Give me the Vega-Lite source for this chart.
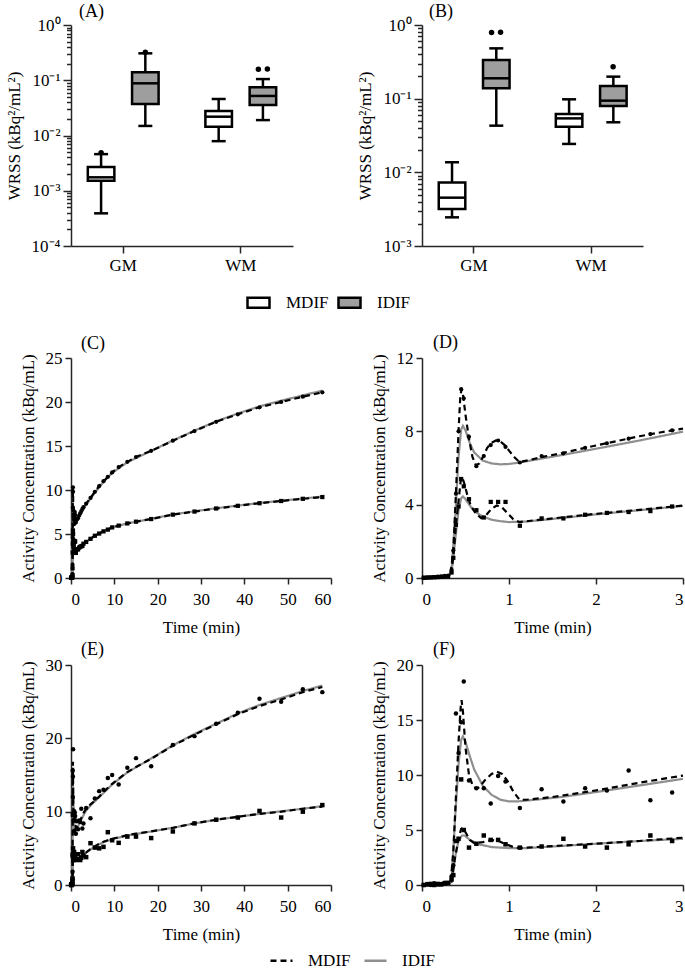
{
"$schema":"https://vega.github.io/schema/vega-lite/v6.json",
"background":"white",
"padding":{"left":5,"top":3,"right":5,"bottom":0},
"config":{
 "view":{"stroke":null},
 "font":"Liberation Serif, Times New Roman, Times, serif",
 "axis":{"domainColor":"#262626","domainWidth":1.5,"tickColor":"#262626","tickWidth":1.5,"tickSize":6,"labelFont":"Liberation Serif, Times New Roman, Times, serif","labelFontSize":17,"labelColor":"black","titleFont":"Liberation Serif, Times New Roman, Times, serif","titleFontSize":17,"titleFontWeight":"normal","titleColor":"black","grid":false,"labelPadding":3,"titlePadding":8,"labelOverlap":false},
 "axisX":{"labelPadding":7,"titlePadding":12},
 "title":{"font":"Liberation Serif, Times New Roman, Times, serif","fontSize":18,"fontWeight":"normal","anchor":"start","frame":"group","color":"black"},
 "legend":{"labelFont":"Liberation Serif, Times New Roman, Times, serif","labelFontSize":17,"labelColor":"black","padding":0}
},
"datasets":{
 "boxA":[
  {"region":"GM","type":"MDIF","lo":0.00039,"q1":0.00152,"med":0.00175,"q3":0.0027,"hi":0.0046},
  {"region":"GM","type":"IDIF","lo":0.0149,"q1":0.037,"med":0.088,"q3":0.139,"hi":0.307},
  {"region":"WM","type":"MDIF","lo":0.0079,"q1":0.0144,"med":0.0219,"q3":0.0277,"hi":0.0458},
  {"region":"WM","type":"IDIF","lo":0.019,"q1":0.0357,"med":0.052,"q3":0.0745,"hi":0.105}],
 "outA":[
  {"region":"GM","type":"MDIF","val":0.0049,"n":0},
  {"region":"GM","type":"IDIF","val":0.32,"n":0},
  {"region":"WM","type":"IDIF","val":0.158,"n":1},
  {"region":"WM","type":"IDIF","val":0.16,"n":2}],
 "boxB":[
  {"region":"GM","type":"MDIF","lo":0.00245,"q1":0.00318,"med":0.00453,"q3":0.0073,"hi":0.0137},
  {"region":"GM","type":"IDIF","lo":0.043,"q1":0.138,"med":0.189,"q3":0.335,"hi":0.482},
  {"region":"WM","type":"MDIF","lo":0.0243,"q1":0.0417,"med":0.054,"q3":0.062,"hi":0.098},
  {"region":"WM","type":"IDIF","lo":0.0478,"q1":0.0795,"med":0.094,"q3":0.149,"hi":0.199}],
 "outB":[
  {"region":"GM","type":"IDIF","val":0.79,"n":1},
  {"region":"GM","type":"IDIF","val":0.8,"n":2},
  {"region":"WM","type":"IDIF","val":0.272,"n":0}],
 "cdp":[
  {"t":0.02,"v":0.02,"r":"GM"},{"t":0.06,"v":0.03,"r":"GM"},{"t":0.1,"v":0.04,"r":"GM"},{"t":0.14,"v":0.05,"r":"GM"},{"t":0.18,"v":0.07,"r":"GM"},{"t":0.22,"v":0.09,"r":"GM"},{"t":0.26,"v":0.11,"r":"GM"},{"t":0.3,"v":0.13,"r":"GM"},{"t":0.34,"v":0.45,"r":"GM"},{"t":0.36,"v":1.5,"r":"GM"},{"t":0.39,"v":4.6,"r":"GM"},{"t":0.42,"v":8.0,"r":"GM"},{"t":0.45,"v":10.3,"r":"GM"},{"t":0.48,"v":9.8,"r":"GM"},{"t":0.54,"v":7.7,"r":"GM"},{"t":0.625,"v":6.1,"r":"GM"},{"t":0.71,"v":6.65,"r":"GM"},{"t":0.79,"v":7.25,"r":"GM"},{"t":0.875,"v":7.5,"r":"GM"},{"t":0.96,"v":7.15,"r":"GM"},{"t":1.125,"v":6.3,"r":"GM"},{"t":1.375,"v":6.65,"r":"GM"},{"t":1.625,"v":6.8,"r":"GM"},{"t":1.875,"v":7.1,"r":"GM"},{"t":2.125,"v":7.35,"r":"GM"},{"t":2.375,"v":7.6,"r":"GM"},{"t":2.625,"v":7.85,"r":"GM"},{"t":2.875,"v":8.05,"r":"GM"},{"t":3.5,"v":8.45,"r":"GM"},{"t":4.5,"v":9.1,"r":"GM"},{"t":5.5,"v":9.8,"r":"GM"},{"t":6.5,"v":10.45,"r":"GM"},{"t":7.5,"v":11.0,"r":"GM"},{"t":8.5,"v":11.5,"r":"GM"},{"t":9.5,"v":12.0,"r":"GM"},{"t":11,"v":12.6,"r":"GM"},{"t":13,"v":13.2,"r":"GM"},{"t":15,"v":13.75,"r":"GM"},{"t":18.5,"v":14.45,"r":"GM"},{"t":23.5,"v":15.6,"r":"GM"},{"t":28.5,"v":16.7,"r":"GM"},{"t":33.5,"v":17.75,"r":"GM"},{"t":38.5,"v":18.6,"r":"GM"},{"t":43.5,"v":19.4,"r":"GM"},{"t":48.5,"v":20.0,"r":"GM"},{"t":53.5,"v":20.6,"r":"GM"},{"t":58,"v":21.1,"r":"GM"},
  {"t":0.02,"v":0.01,"r":"WM"},{"t":0.06,"v":0.02,"r":"WM"},{"t":0.1,"v":0.03,"r":"WM"},{"t":0.14,"v":0.04,"r":"WM"},{"t":0.18,"v":0.05,"r":"WM"},{"t":0.22,"v":0.06,"r":"WM"},{"t":0.26,"v":0.07,"r":"WM"},{"t":0.3,"v":0.08,"r":"WM"},{"t":0.34,"v":0.3,"r":"WM"},{"t":0.36,"v":1.1,"r":"WM"},{"t":0.39,"v":2.9,"r":"WM"},{"t":0.42,"v":3.9,"r":"WM"},{"t":0.45,"v":5.4,"r":"WM"},{"t":0.48,"v":5.0,"r":"WM"},{"t":0.54,"v":4.3,"r":"WM"},{"t":0.625,"v":3.7,"r":"WM"},{"t":0.71,"v":3.3,"r":"WM"},{"t":0.79,"v":4.15,"r":"WM"},{"t":0.875,"v":4.15,"r":"WM"},{"t":0.96,"v":4.15,"r":"WM"},{"t":1.125,"v":2.85,"r":"WM"},{"t":1.375,"v":3.25,"r":"WM"},{"t":1.625,"v":3.25,"r":"WM"},{"t":1.875,"v":3.45,"r":"WM"},{"t":2.125,"v":3.55,"r":"WM"},{"t":2.375,"v":3.6,"r":"WM"},{"t":2.625,"v":3.65,"r":"WM"},{"t":2.875,"v":3.9,"r":"WM"},{"t":3.5,"v":4.1,"r":"WM"},{"t":4.5,"v":4.45,"r":"WM"},{"t":5.5,"v":4.8,"r":"WM"},{"t":6.5,"v":5.05,"r":"WM"},{"t":7.5,"v":5.3,"r":"WM"},{"t":8.5,"v":5.5,"r":"WM"},{"t":9.5,"v":5.75,"r":"WM"},{"t":11,"v":5.95,"r":"WM"},{"t":13,"v":6.2,"r":"WM"},{"t":15,"v":6.4,"r":"WM"},{"t":18.5,"v":6.7,"r":"WM"},{"t":23.5,"v":7.2,"r":"WM"},{"t":28.5,"v":7.55,"r":"WM"},{"t":33.5,"v":7.9,"r":"WM"},{"t":38.5,"v":8.2,"r":"WM"},{"t":43.5,"v":8.5,"r":"WM"},{"t":48.5,"v":8.75,"r":"WM"},{"t":53.5,"v":9.0,"r":"WM"},{"t":58,"v":9.2,"r":"WM"}],
 "cdf":[
  {"t":0,"v":0,"r":"GM","m":"IDIF"},{"t":0.3,"v":0.05,"r":"GM","m":"IDIF"},{"t":0.34,"v":0.4,"r":"GM","m":"IDIF"},{"t":0.38,"v":3.2,"r":"GM","m":"IDIF"},{"t":0.42,"v":6.6,"r":"GM","m":"IDIF"},{"t":0.45,"v":8.1,"r":"GM","m":"IDIF"},{"t":0.47,"v":8.3,"r":"GM","m":"IDIF"},{"t":0.5,"v":8.05,"r":"GM","m":"IDIF"},{"t":0.55,"v":7.35,"r":"GM","m":"IDIF"},{"t":0.6,"v":6.85,"r":"GM","m":"IDIF"},{"t":0.7,"v":6.4,"r":"GM","m":"IDIF"},{"t":0.8,"v":6.25,"r":"GM","m":"IDIF"},{"t":0.9,"v":6.2,"r":"GM","m":"IDIF"},{"t":1.0,"v":6.22,"r":"GM","m":"IDIF"},{"t":1.1,"v":6.28,"r":"GM","m":"IDIF"},{"t":1.3,"v":6.45,"r":"GM","m":"IDIF"},{"t":1.6,"v":6.7,"r":"GM","m":"IDIF"},{"t":2.0,"v":7.05,"r":"GM","m":"IDIF"},{"t":2.5,"v":7.5,"r":"GM","m":"IDIF"},{"t":3.0,"v":7.98,"r":"GM","m":"IDIF"},{"t":3.5,"v":8.35,"r":"GM","m":"IDIF"},{"t":4.5,"v":9.0,"r":"GM","m":"IDIF"},{"t":5.5,"v":9.7,"r":"GM","m":"IDIF"},{"t":7.5,"v":10.9,"r":"GM","m":"IDIF"},{"t":9.5,"v":11.95,"r":"GM","m":"IDIF"},{"t":13,"v":13.15,"r":"GM","m":"IDIF"},{"t":18.5,"v":14.45,"r":"GM","m":"IDIF"},{"t":23.5,"v":15.62,"r":"GM","m":"IDIF"},{"t":28.5,"v":16.75,"r":"GM","m":"IDIF"},{"t":33.5,"v":17.8,"r":"GM","m":"IDIF"},{"t":38.5,"v":18.7,"r":"GM","m":"IDIF"},{"t":43.5,"v":19.5,"r":"GM","m":"IDIF"},{"t":48.5,"v":20.15,"r":"GM","m":"IDIF"},{"t":53.5,"v":20.75,"r":"GM","m":"IDIF"},{"t":58,"v":21.3,"r":"GM","m":"IDIF"},
  {"t":0,"v":0,"r":"WM","m":"IDIF"},{"t":0.3,"v":0.05,"r":"WM","m":"IDIF"},{"t":0.34,"v":0.3,"r":"WM","m":"IDIF"},{"t":0.38,"v":2.0,"r":"WM","m":"IDIF"},{"t":0.42,"v":3.7,"r":"WM","m":"IDIF"},{"t":0.45,"v":4.35,"r":"WM","m":"IDIF"},{"t":0.47,"v":4.45,"r":"WM","m":"IDIF"},{"t":0.5,"v":4.3,"r":"WM","m":"IDIF"},{"t":0.55,"v":3.95,"r":"WM","m":"IDIF"},{"t":0.6,"v":3.65,"r":"WM","m":"IDIF"},{"t":0.7,"v":3.35,"r":"WM","m":"IDIF"},{"t":0.8,"v":3.18,"r":"WM","m":"IDIF"},{"t":0.9,"v":3.1,"r":"WM","m":"IDIF"},{"t":1.0,"v":3.05,"r":"WM","m":"IDIF"},{"t":1.2,"v":3.08,"r":"WM","m":"IDIF"},{"t":1.5,"v":3.22,"r":"WM","m":"IDIF"},{"t":2.0,"v":3.47,"r":"WM","m":"IDIF"},{"t":2.5,"v":3.7,"r":"WM","m":"IDIF"},{"t":3.0,"v":3.93,"r":"WM","m":"IDIF"},{"t":3.5,"v":4.1,"r":"WM","m":"IDIF"},{"t":4.5,"v":4.45,"r":"WM","m":"IDIF"},{"t":5.5,"v":4.8,"r":"WM","m":"IDIF"},{"t":7.5,"v":5.3,"r":"WM","m":"IDIF"},{"t":9.5,"v":5.75,"r":"WM","m":"IDIF"},{"t":13,"v":6.2,"r":"WM","m":"IDIF"},{"t":18.5,"v":6.72,"r":"WM","m":"IDIF"},{"t":23.5,"v":7.22,"r":"WM","m":"IDIF"},{"t":28.5,"v":7.58,"r":"WM","m":"IDIF"},{"t":33.5,"v":7.93,"r":"WM","m":"IDIF"},{"t":38.5,"v":8.23,"r":"WM","m":"IDIF"},{"t":43.5,"v":8.53,"r":"WM","m":"IDIF"},{"t":48.5,"v":8.78,"r":"WM","m":"IDIF"},{"t":53.5,"v":9.03,"r":"WM","m":"IDIF"},{"t":58,"v":9.25,"r":"WM","m":"IDIF"},
  {"t":0,"v":0,"r":"GM","m":"MDIF"},{"t":0.3,"v":0.12,"r":"GM","m":"MDIF"},{"t":0.33,"v":0.3,"r":"GM","m":"MDIF"},{"t":0.36,"v":1.5,"r":"GM","m":"MDIF"},{"t":0.39,"v":4.6,"r":"GM","m":"MDIF"},{"t":0.42,"v":8.0,"r":"GM","m":"MDIF"},{"t":0.44,"v":9.9,"r":"GM","m":"MDIF"},{"t":0.455,"v":10.3,"r":"GM","m":"MDIF"},{"t":0.47,"v":10.05,"r":"GM","m":"MDIF"},{"t":0.5,"v":8.9,"r":"GM","m":"MDIF"},{"t":0.54,"v":7.6,"r":"GM","m":"MDIF"},{"t":0.58,"v":6.6,"r":"GM","m":"MDIF"},{"t":0.62,"v":6.15,"r":"GM","m":"MDIF"},{"t":0.66,"v":6.25,"r":"GM","m":"MDIF"},{"t":0.7,"v":6.6,"r":"GM","m":"MDIF"},{"t":0.75,"v":7.1,"r":"GM","m":"MDIF"},{"t":0.8,"v":7.38,"r":"GM","m":"MDIF"},{"t":0.85,"v":7.5,"r":"GM","m":"MDIF"},{"t":0.9,"v":7.45,"r":"GM","m":"MDIF"},{"t":0.95,"v":7.25,"r":"GM","m":"MDIF"},{"t":1.0,"v":6.95,"r":"GM","m":"MDIF"},{"t":1.06,"v":6.6,"r":"GM","m":"MDIF"},{"t":1.12,"v":6.32,"r":"GM","m":"MDIF"},{"t":1.2,"v":6.4,"r":"GM","m":"MDIF"},{"t":1.4,"v":6.62,"r":"GM","m":"MDIF"},{"t":1.6,"v":6.8,"r":"GM","m":"MDIF"},{"t":1.8,"v":7.02,"r":"GM","m":"MDIF"},{"t":2.0,"v":7.23,"r":"GM","m":"MDIF"},{"t":2.25,"v":7.48,"r":"GM","m":"MDIF"},{"t":2.5,"v":7.73,"r":"GM","m":"MDIF"},{"t":2.75,"v":7.95,"r":"GM","m":"MDIF"},{"t":3.0,"v":8.15,"r":"GM","m":"MDIF"},{"t":3.5,"v":8.45,"r":"GM","m":"MDIF"},{"t":4.5,"v":9.1,"r":"GM","m":"MDIF"},{"t":5.5,"v":9.8,"r":"GM","m":"MDIF"},{"t":6.5,"v":10.45,"r":"GM","m":"MDIF"},{"t":7.5,"v":11.0,"r":"GM","m":"MDIF"},{"t":8.5,"v":11.5,"r":"GM","m":"MDIF"},{"t":9.5,"v":12.0,"r":"GM","m":"MDIF"},{"t":11,"v":12.6,"r":"GM","m":"MDIF"},{"t":13,"v":13.2,"r":"GM","m":"MDIF"},{"t":15,"v":13.75,"r":"GM","m":"MDIF"},{"t":18.5,"v":14.45,"r":"GM","m":"MDIF"},{"t":23.5,"v":15.6,"r":"GM","m":"MDIF"},{"t":28.5,"v":16.7,"r":"GM","m":"MDIF"},{"t":33.5,"v":17.75,"r":"GM","m":"MDIF"},{"t":38.5,"v":18.6,"r":"GM","m":"MDIF"},{"t":43.5,"v":19.4,"r":"GM","m":"MDIF"},{"t":48.5,"v":20.0,"r":"GM","m":"MDIF"},{"t":53.5,"v":20.6,"r":"GM","m":"MDIF"},{"t":58,"v":21.1,"r":"GM","m":"MDIF"},
  {"t":0,"v":0,"r":"WM","m":"MDIF"},{"t":0.3,"v":0.08,"r":"WM","m":"MDIF"},{"t":0.33,"v":0.2,"r":"WM","m":"MDIF"},{"t":0.36,"v":1.1,"r":"WM","m":"MDIF"},{"t":0.39,"v":2.9,"r":"WM","m":"MDIF"},{"t":0.42,"v":4.2,"r":"WM","m":"MDIF"},{"t":0.445,"v":5.3,"r":"WM","m":"MDIF"},{"t":0.46,"v":5.5,"r":"WM","m":"MDIF"},{"t":0.48,"v":5.25,"r":"WM","m":"MDIF"},{"t":0.52,"v":4.55,"r":"WM","m":"MDIF"},{"t":0.56,"v":3.95,"r":"WM","m":"MDIF"},{"t":0.62,"v":3.5,"r":"WM","m":"MDIF"},{"t":0.68,"v":3.27,"r":"WM","m":"MDIF"},{"t":0.74,"v":3.45,"r":"WM","m":"MDIF"},{"t":0.8,"v":3.78,"r":"WM","m":"MDIF"},{"t":0.86,"v":3.95,"r":"WM","m":"MDIF"},{"t":0.92,"v":3.85,"r":"WM","m":"MDIF"},{"t":0.98,"v":3.55,"r":"WM","m":"MDIF"},{"t":1.05,"v":3.2,"r":"WM","m":"MDIF"},{"t":1.12,"v":3.05,"r":"WM","m":"MDIF"},{"t":1.3,"v":3.15,"r":"WM","m":"MDIF"},{"t":1.6,"v":3.3,"r":"WM","m":"MDIF"},{"t":2.0,"v":3.5,"r":"WM","m":"MDIF"},{"t":2.5,"v":3.72,"r":"WM","m":"MDIF"},{"t":3.0,"v":3.95,"r":"WM","m":"MDIF"},{"t":3.5,"v":4.1,"r":"WM","m":"MDIF"},{"t":4.5,"v":4.45,"r":"WM","m":"MDIF"},{"t":5.5,"v":4.8,"r":"WM","m":"MDIF"},{"t":6.5,"v":5.05,"r":"WM","m":"MDIF"},{"t":7.5,"v":5.3,"r":"WM","m":"MDIF"},{"t":8.5,"v":5.5,"r":"WM","m":"MDIF"},{"t":9.5,"v":5.75,"r":"WM","m":"MDIF"},{"t":11,"v":5.95,"r":"WM","m":"MDIF"},{"t":13,"v":6.2,"r":"WM","m":"MDIF"},{"t":15,"v":6.4,"r":"WM","m":"MDIF"},{"t":18.5,"v":6.7,"r":"WM","m":"MDIF"},{"t":23.5,"v":7.2,"r":"WM","m":"MDIF"},{"t":28.5,"v":7.55,"r":"WM","m":"MDIF"},{"t":33.5,"v":7.9,"r":"WM","m":"MDIF"},{"t":38.5,"v":8.2,"r":"WM","m":"MDIF"},{"t":43.5,"v":8.5,"r":"WM","m":"MDIF"},{"t":48.5,"v":8.75,"r":"WM","m":"MDIF"},{"t":53.5,"v":9.0,"r":"WM","m":"MDIF"},{"t":58,"v":9.2,"r":"WM","m":"MDIF"}],
 "efp":[
  {"t":0.02,"v":0.0,"r":"GM"},{"t":0.06,"v":0.1,"r":"GM"},{"t":0.1,"v":0.0,"r":"GM"},{"t":0.14,"v":0.15,"r":"GM"},{"t":0.18,"v":0.05,"r":"GM"},{"t":0.22,"v":0.1,"r":"GM"},{"t":0.26,"v":0.2,"r":"GM"},{"t":0.3,"v":0.15,"r":"GM"},{"t":0.34,"v":0.8,"r":"GM"},{"t":0.36,"v":1.8,"r":"GM"},{"t":0.39,"v":15.6,"r":"GM"},{"t":0.42,"v":12.0,"r":"GM"},{"t":0.45,"v":14.8,"r":"GM"},{"t":0.48,"v":18.5,"r":"GM"},{"t":0.54,"v":9.5,"r":"GM"},{"t":0.625,"v":8.8,"r":"GM"},{"t":0.71,"v":8.8,"r":"GM"},{"t":0.79,"v":7.4,"r":"GM"},{"t":0.875,"v":9.9,"r":"GM"},{"t":0.96,"v":9.4,"r":"GM"},{"t":1.125,"v":7.0,"r":"GM"},{"t":1.375,"v":8.7,"r":"GM"},{"t":1.625,"v":7.6,"r":"GM"},{"t":1.875,"v":8.8,"r":"GM"},{"t":2.125,"v":8.6,"r":"GM"},{"t":2.375,"v":10.4,"r":"GM"},{"t":2.625,"v":7.7,"r":"GM"},{"t":2.875,"v":8.4,"r":"GM"},{"t":3.5,"v":10.5,"r":"GM"},{"t":4.5,"v":9.1,"r":"GM"},{"t":5.5,"v":11.8,"r":"GM"},{"t":6.5,"v":12.8,"r":"GM"},{"t":7.5,"v":13.0,"r":"GM"},{"t":8.5,"v":14.6,"r":"GM"},{"t":9.5,"v":15.0,"r":"GM"},{"t":11,"v":13.7,"r":"GM"},{"t":13,"v":16.0,"r":"GM"},{"t":15,"v":17.3,"r":"GM"},{"t":18.5,"v":16.2,"r":"GM"},{"t":23.5,"v":19.1,"r":"GM"},{"t":28.5,"v":20.3,"r":"GM"},{"t":33.5,"v":22.0,"r":"GM"},{"t":38.5,"v":23.5,"r":"GM"},{"t":43.5,"v":25.4,"r":"GM"},{"t":48.5,"v":25.0,"r":"GM"},{"t":53.5,"v":26.7,"r":"GM"},{"t":58,"v":26.3,"r":"GM"},
  {"t":0.02,"v":0.0,"r":"WM"},{"t":0.06,"v":0.05,"r":"WM"},{"t":0.1,"v":0.1,"r":"WM"},{"t":0.14,"v":0.0,"r":"WM"},{"t":0.18,"v":0.1,"r":"WM"},{"t":0.22,"v":0.05,"r":"WM"},{"t":0.26,"v":0.15,"r":"WM"},{"t":0.3,"v":0.2,"r":"WM"},{"t":0.34,"v":0.5,"r":"WM"},{"t":0.36,"v":0.9,"r":"WM"},{"t":0.39,"v":4.0,"r":"WM"},{"t":0.42,"v":4.2,"r":"WM"},{"t":0.45,"v":9.6,"r":"WM"},{"t":0.48,"v":5.0,"r":"WM"},{"t":0.54,"v":3.4,"r":"WM"},{"t":0.625,"v":3.75,"r":"WM"},{"t":0.71,"v":4.5,"r":"WM"},{"t":0.79,"v":4.1,"r":"WM"},{"t":0.875,"v":4.1,"r":"WM"},{"t":0.96,"v":3.7,"r":"WM"},{"t":1.125,"v":3.4,"r":"WM"},{"t":1.375,"v":3.5,"r":"WM"},{"t":1.625,"v":4.2,"r":"WM"},{"t":1.875,"v":3.5,"r":"WM"},{"t":2.125,"v":3.4,"r":"WM"},{"t":2.375,"v":3.7,"r":"WM"},{"t":2.625,"v":4.5,"r":"WM"},{"t":2.875,"v":4.0,"r":"WM"},{"t":3.5,"v":3.8,"r":"WM"},{"t":4.5,"v":5.7,"r":"WM"},{"t":5.5,"v":5.1,"r":"WM"},{"t":6.5,"v":5.0,"r":"WM"},{"t":7.5,"v":5.2,"r":"WM"},{"t":8.5,"v":7.2,"r":"WM"},{"t":9.5,"v":6.1,"r":"WM"},{"t":11,"v":5.75,"r":"WM"},{"t":13,"v":6.6,"r":"WM"},{"t":15,"v":6.6,"r":"WM"},{"t":18.5,"v":6.4,"r":"WM"},{"t":23.5,"v":7.3,"r":"WM"},{"t":28.5,"v":8.4,"r":"WM"},{"t":33.5,"v":8.9,"r":"WM"},{"t":38.5,"v":9.2,"r":"WM"},{"t":43.5,"v":10.1,"r":"WM"},{"t":48.5,"v":9.2,"r":"WM"},{"t":53.5,"v":10.0,"r":"WM"},{"t":58,"v":10.9,"r":"WM"}],
 "eff":[
  {"t":0,"v":0,"r":"GM","m":"IDIF"},{"t":0.3,"v":0.05,"r":"GM","m":"IDIF"},{"t":0.34,"v":0.5,"r":"GM","m":"IDIF"},{"t":0.38,"v":6.0,"r":"GM","m":"IDIF"},{"t":0.42,"v":11.0,"r":"GM","m":"IDIF"},{"t":0.45,"v":13.2,"r":"GM","m":"IDIF"},{"t":0.47,"v":13.5,"r":"GM","m":"IDIF"},{"t":0.5,"v":13.0,"r":"GM","m":"IDIF"},{"t":0.55,"v":11.7,"r":"GM","m":"IDIF"},{"t":0.6,"v":10.5,"r":"GM","m":"IDIF"},{"t":0.7,"v":9.0,"r":"GM","m":"IDIF"},{"t":0.8,"v":8.2,"r":"GM","m":"IDIF"},{"t":0.9,"v":7.75,"r":"GM","m":"IDIF"},{"t":1.0,"v":7.6,"r":"GM","m":"IDIF"},{"t":1.1,"v":7.6,"r":"GM","m":"IDIF"},{"t":1.3,"v":7.75,"r":"GM","m":"IDIF"},{"t":1.6,"v":8.0,"r":"GM","m":"IDIF"},{"t":2.0,"v":8.45,"r":"GM","m":"IDIF"},{"t":2.5,"v":9.05,"r":"GM","m":"IDIF"},{"t":3.0,"v":9.65,"r":"GM","m":"IDIF"},{"t":3.5,"v":10.15,"r":"GM","m":"IDIF"},{"t":4.5,"v":10.85,"r":"GM","m":"IDIF"},{"t":5.5,"v":11.4,"r":"GM","m":"IDIF"},{"t":7.5,"v":12.55,"r":"GM","m":"IDIF"},{"t":9.5,"v":13.7,"r":"GM","m":"IDIF"},{"t":13,"v":15.35,"r":"GM","m":"IDIF"},{"t":18.5,"v":17.25,"r":"GM","m":"IDIF"},{"t":23.5,"v":19.05,"r":"GM","m":"IDIF"},{"t":28.5,"v":20.6,"r":"GM","m":"IDIF"},{"t":33.5,"v":22.0,"r":"GM","m":"IDIF"},{"t":38.5,"v":23.4,"r":"GM","m":"IDIF"},{"t":43.5,"v":24.55,"r":"GM","m":"IDIF"},{"t":48.5,"v":25.5,"r":"GM","m":"IDIF"},{"t":53.5,"v":26.45,"r":"GM","m":"IDIF"},{"t":58,"v":27.2,"r":"GM","m":"IDIF"},
  {"t":0,"v":0,"r":"WM","m":"IDIF"},{"t":0.3,"v":0.05,"r":"WM","m":"IDIF"},{"t":0.34,"v":0.3,"r":"WM","m":"IDIF"},{"t":0.38,"v":2.5,"r":"WM","m":"IDIF"},{"t":0.42,"v":4.0,"r":"WM","m":"IDIF"},{"t":0.46,"v":4.5,"r":"WM","m":"IDIF"},{"t":0.49,"v":4.5,"r":"WM","m":"IDIF"},{"t":0.55,"v":4.1,"r":"WM","m":"IDIF"},{"t":0.65,"v":3.7,"r":"WM","m":"IDIF"},{"t":0.8,"v":3.45,"r":"WM","m":"IDIF"},{"t":1.0,"v":3.35,"r":"WM","m":"IDIF"},{"t":1.2,"v":3.35,"r":"WM","m":"IDIF"},{"t":1.6,"v":3.55,"r":"WM","m":"IDIF"},{"t":2.0,"v":3.75,"r":"WM","m":"IDIF"},{"t":2.5,"v":4.0,"r":"WM","m":"IDIF"},{"t":3.0,"v":4.2,"r":"WM","m":"IDIF"},{"t":3.5,"v":4.4,"r":"WM","m":"IDIF"},{"t":4.5,"v":4.85,"r":"WM","m":"IDIF"},{"t":5.5,"v":5.25,"r":"WM","m":"IDIF"},{"t":7.5,"v":5.85,"r":"WM","m":"IDIF"},{"t":9.5,"v":6.25,"r":"WM","m":"IDIF"},{"t":13,"v":6.75,"r":"WM","m":"IDIF"},{"t":18.5,"v":7.3,"r":"WM","m":"IDIF"},{"t":23.5,"v":7.8,"r":"WM","m":"IDIF"},{"t":28.5,"v":8.4,"r":"WM","m":"IDIF"},{"t":33.5,"v":8.9,"r":"WM","m":"IDIF"},{"t":38.5,"v":9.3,"r":"WM","m":"IDIF"},{"t":43.5,"v":9.7,"r":"WM","m":"IDIF"},{"t":48.5,"v":10.05,"r":"WM","m":"IDIF"},{"t":53.5,"v":10.4,"r":"WM","m":"IDIF"},{"t":58,"v":10.75,"r":"WM","m":"IDIF"},
  {"t":0,"v":0,"r":"GM","m":"MDIF"},{"t":0.3,"v":0.1,"r":"GM","m":"MDIF"},{"t":0.33,"v":0.3,"r":"GM","m":"MDIF"},{"t":0.36,"v":3.0,"r":"GM","m":"MDIF"},{"t":0.39,"v":8.0,"r":"GM","m":"MDIF"},{"t":0.42,"v":13.0,"r":"GM","m":"MDIF"},{"t":0.445,"v":16.2,"r":"GM","m":"MDIF"},{"t":0.455,"v":16.8,"r":"GM","m":"MDIF"},{"t":0.47,"v":15.8,"r":"GM","m":"MDIF"},{"t":0.5,"v":12.5,"r":"GM","m":"MDIF"},{"t":0.54,"v":10.0,"r":"GM","m":"MDIF"},{"t":0.58,"v":9.1,"r":"GM","m":"MDIF"},{"t":0.62,"v":8.75,"r":"GM","m":"MDIF"},{"t":0.66,"v":8.9,"r":"GM","m":"MDIF"},{"t":0.72,"v":9.5,"r":"GM","m":"MDIF"},{"t":0.8,"v":10.1,"r":"GM","m":"MDIF"},{"t":0.86,"v":10.3,"r":"GM","m":"MDIF"},{"t":0.92,"v":10.1,"r":"GM","m":"MDIF"},{"t":0.98,"v":9.5,"r":"GM","m":"MDIF"},{"t":1.05,"v":8.5,"r":"GM","m":"MDIF"},{"t":1.12,"v":7.75,"r":"GM","m":"MDIF"},{"t":1.2,"v":7.75,"r":"GM","m":"MDIF"},{"t":1.5,"v":8.0,"r":"GM","m":"MDIF"},{"t":2.0,"v":8.6,"r":"GM","m":"MDIF"},{"t":2.5,"v":9.3,"r":"GM","m":"MDIF"},{"t":3.0,"v":9.95,"r":"GM","m":"MDIF"},{"t":3.5,"v":10.4,"r":"GM","m":"MDIF"},{"t":4.5,"v":11.0,"r":"GM","m":"MDIF"},{"t":5.5,"v":11.5,"r":"GM","m":"MDIF"},{"t":6.5,"v":12.05,"r":"GM","m":"MDIF"},{"t":7.5,"v":12.65,"r":"GM","m":"MDIF"},{"t":8.5,"v":13.25,"r":"GM","m":"MDIF"},{"t":9.5,"v":13.8,"r":"GM","m":"MDIF"},{"t":11,"v":14.5,"r":"GM","m":"MDIF"},{"t":13,"v":15.4,"r":"GM","m":"MDIF"},{"t":15,"v":16.1,"r":"GM","m":"MDIF"},{"t":18.5,"v":17.2,"r":"GM","m":"MDIF"},{"t":23.5,"v":19.0,"r":"GM","m":"MDIF"},{"t":28.5,"v":20.5,"r":"GM","m":"MDIF"},{"t":33.5,"v":21.9,"r":"GM","m":"MDIF"},{"t":38.5,"v":23.3,"r":"GM","m":"MDIF"},{"t":43.5,"v":24.4,"r":"GM","m":"MDIF"},{"t":48.5,"v":25.3,"r":"GM","m":"MDIF"},{"t":53.5,"v":26.3,"r":"GM","m":"MDIF"},{"t":58,"v":27.0,"r":"GM","m":"MDIF"},
  {"t":0,"v":0,"r":"WM","m":"MDIF"},{"t":0.3,"v":0.05,"r":"WM","m":"MDIF"},{"t":0.34,"v":0.3,"r":"WM","m":"MDIF"},{"t":0.38,"v":2.5,"r":"WM","m":"MDIF"},{"t":0.42,"v":4.2,"r":"WM","m":"MDIF"},{"t":0.45,"v":5.1,"r":"WM","m":"MDIF"},{"t":0.47,"v":5.2,"r":"WM","m":"MDIF"},{"t":0.5,"v":4.8,"r":"WM","m":"MDIF"},{"t":0.55,"v":4.1,"r":"WM","m":"MDIF"},{"t":0.6,"v":3.8,"r":"WM","m":"MDIF"},{"t":0.7,"v":3.9,"r":"WM","m":"MDIF"},{"t":0.8,"v":4.1,"r":"WM","m":"MDIF"},{"t":0.88,"v":4.0,"r":"WM","m":"MDIF"},{"t":0.95,"v":3.75,"r":"WM","m":"MDIF"},{"t":1.05,"v":3.45,"r":"WM","m":"MDIF"},{"t":1.12,"v":3.35,"r":"WM","m":"MDIF"},{"t":1.4,"v":3.5,"r":"WM","m":"MDIF"},{"t":2.0,"v":3.75,"r":"WM","m":"MDIF"},{"t":2.5,"v":4.0,"r":"WM","m":"MDIF"},{"t":3.0,"v":4.3,"r":"WM","m":"MDIF"},{"t":3.5,"v":4.45,"r":"WM","m":"MDIF"},{"t":4.5,"v":4.9,"r":"WM","m":"MDIF"},{"t":5.5,"v":5.3,"r":"WM","m":"MDIF"},{"t":6.5,"v":5.6,"r":"WM","m":"MDIF"},{"t":7.5,"v":5.9,"r":"WM","m":"MDIF"},{"t":8.5,"v":6.1,"r":"WM","m":"MDIF"},{"t":9.5,"v":6.3,"r":"WM","m":"MDIF"},{"t":11,"v":6.5,"r":"WM","m":"MDIF"},{"t":13,"v":6.8,"r":"WM","m":"MDIF"},{"t":15,"v":7.0,"r":"WM","m":"MDIF"},{"t":18.5,"v":7.3,"r":"WM","m":"MDIF"},{"t":23.5,"v":7.8,"r":"WM","m":"MDIF"},{"t":28.5,"v":8.4,"r":"WM","m":"MDIF"},{"t":33.5,"v":8.9,"r":"WM","m":"MDIF"},{"t":38.5,"v":9.3,"r":"WM","m":"MDIF"},{"t":43.5,"v":9.7,"r":"WM","m":"MDIF"},{"t":48.5,"v":10.0,"r":"WM","m":"MDIF"},{"t":53.5,"v":10.4,"r":"WM","m":"MDIF"},{"t":58,"v":10.7,"r":"WM","m":"MDIF"}]
},
"resolve":{"scale":{"color":"independent","fill":"independent","strokeDash":"independent","shape":"independent"},"legend":{"color":"independent","fill":"independent","strokeDash":"independent","shape":"independent"}},
"spacing":21,
"vconcat":[
 {"hconcat":[
  {"width":222,"height":221,
   "title":{"text":"(A)","dx":8,"offset":-5},
   "data":{"name":"boxA"},
   "layer":[
    {"mark":{"type":"rule","color":"black","strokeWidth":2.5},
     "encoding":{
      "x":{"field":"region","type":"nominal","scale":{"domain":["GM","WM"],"paddingInner":0.3,"paddingOuter":0.094},"axis":{"title":null,"labelAngle":0,"tickSize":7,"labelPadding":4}},
      "xOffset":{"field":"type","type":"nominal","scale":{"domain":["MDIF","IDIF"],"paddingInner":0.4,"paddingOuter":0.13}},
      "y":{"field":"lo","type":"quantitative","scale":{"type":"log","domain":[0.0001,1],"nice":false},
       "axis":{"title":"WRSS (kBq²/mL²)","values":[0.0001,0.0002,0.0003,0.0004,0.0005,0.0006,0.0007,0.0008,0.0009,0.001,0.002,0.003,0.004,0.005,0.006,0.007,0.008,0.009,0.01,0.02,0.03,0.04,0.05,0.06,0.07,0.08,0.09,0.1,0.2,0.3,0.4,0.5,0.6,0.7,0.8,0.9,1],
        "labelExpr":"datum.value == 1 ? '10⁰' : datum.value == 0.1 ? '10⁻¹' : datum.value == 0.01 ? '10⁻²' : datum.value == 0.001 ? '10⁻³' : datum.value == 0.0001 ? '10⁻⁴' : ''",
        "tickSize":{"condition":{"test":"indexof([1,0.1,0.01,0.001,0.0001], datum.value) >= 0","value":8},"value":4.5},"labelPadding":3}},
      "y2":{"field":"hi"}}},
    {"mark":{"type":"bar","stroke":"black","strokeWidth":2.5},
     "encoding":{
      "x":{"field":"region","type":"nominal"},
      "xOffset":{"field":"type","type":"nominal"},
      "y":{"field":"q1","type":"quantitative"},"y2":{"field":"q3"},
      "fill":{"field":"type","type":"nominal","scale":{"domain":["MDIF","IDIF"],"range":["white","#9e9e9e"]},
       "legend":{"orient":"none","legendX":175,"legendY":265,"direction":"horizontal","title":null,"symbolType":"M-1,-0.45L1,-0.45L1,0.45L-1,0.45Z","symbolSize":484,"symbolStrokeColor":"black","symbolStrokeWidth":2.5,"symbolOpacity":1,"labelOffset":15,"columnPadding":4}}}},
    {"mark":{"type":"tick","color":"black","thickness":2.5,"size":27,"opacity":1},"encoding":{"x":{"field":"region","type":"nominal"},"xOffset":{"field":"type","type":"nominal"},"y":{"field":"med","type":"quantitative"}}},
    {"mark":{"type":"tick","color":"black","thickness":2.5,"size":14,"opacity":1},"encoding":{"x":{"field":"region","type":"nominal"},"xOffset":{"field":"type","type":"nominal"},"y":{"field":"lo","type":"quantitative"}}},
    {"mark":{"type":"tick","color":"black","thickness":2.5,"size":14,"opacity":1},"encoding":{"x":{"field":"region","type":"nominal"},"xOffset":{"field":"type","type":"nominal"},"y":{"field":"hi","type":"quantitative"}}},
    {"data":{"name":"outA"},"mark":{"type":"point","filled":true,"color":"black","size":30,"opacity":1,"xOffset":{"expr":"(datum.type == 'MDIF' ? -22.1 : 22.1) + (datum.n == 1 ? -4.5 : datum.n == 2 ? 4.5 : 0)"}},
     "encoding":{"x":{"field":"region","type":"nominal"},"y":{"field":"val","type":"quantitative"}}}
   ]},
  {"width":221,"height":221,
   "title":{"text":"(B)","dx":7,"offset":-5},
   "data":{"name":"boxB"},
   "layer":[
    {"mark":{"type":"rule","color":"black","strokeWidth":2.5},
     "encoding":{
      "x":{"field":"region","type":"nominal","scale":{"domain":["GM","WM"],"paddingInner":0.3,"paddingOuter":0.094},"axis":{"title":null,"labelAngle":0,"tickSize":7,"labelPadding":4}},
      "xOffset":{"field":"type","type":"nominal","scale":{"domain":["MDIF","IDIF"],"paddingInner":0.4,"paddingOuter":0.13}},
      "y":{"field":"lo","type":"quantitative","scale":{"type":"log","domain":[0.001,1],"nice":false},
       "axis":{"title":"WRSS (kBq²/mL²)","values":[0.001,0.002,0.003,0.004,0.005,0.006,0.007,0.008,0.009,0.01,0.02,0.03,0.04,0.05,0.06,0.07,0.08,0.09,0.1,0.2,0.3,0.4,0.5,0.6,0.7,0.8,0.9,1],
        "labelExpr":"datum.value == 1 ? '10⁰' : datum.value == 0.1 ? '10⁻¹' : datum.value == 0.01 ? '10⁻²' : datum.value == 0.001 ? '10⁻³' : ''",
        "tickSize":{"condition":{"test":"indexof([1,0.1,0.01,0.001], datum.value) >= 0","value":8},"value":4.5},"labelPadding":3}},
      "y2":{"field":"hi"}}},
    {"mark":{"type":"bar","stroke":"black","strokeWidth":2.5},
     "encoding":{
      "x":{"field":"region","type":"nominal"},
      "xOffset":{"field":"type","type":"nominal"},
      "y":{"field":"q1","type":"quantitative"},"y2":{"field":"q3"},
      "fill":{"field":"type","type":"nominal","scale":{"domain":["MDIF","IDIF"],"range":["white","#9e9e9e"]},"legend":null}}},
    {"mark":{"type":"tick","color":"black","thickness":2.5,"size":27,"opacity":1},"encoding":{"x":{"field":"region","type":"nominal"},"xOffset":{"field":"type","type":"nominal"},"y":{"field":"med","type":"quantitative"}}},
    {"mark":{"type":"tick","color":"black","thickness":2.5,"size":14,"opacity":1},"encoding":{"x":{"field":"region","type":"nominal"},"xOffset":{"field":"type","type":"nominal"},"y":{"field":"lo","type":"quantitative"}}},
    {"mark":{"type":"tick","color":"black","thickness":2.5,"size":14,"opacity":1},"encoding":{"x":{"field":"region","type":"nominal"},"xOffset":{"field":"type","type":"nominal"},"y":{"field":"hi","type":"quantitative"}}},
    {"data":{"name":"outB"},"mark":{"type":"point","filled":true,"color":"black","size":30,"opacity":1,"xOffset":{"expr":"(datum.type == 'MDIF' ? -22.1 : 22.1) + (datum.n == 1 ? -4.5 : datum.n == 2 ? 4.5 : 0)"}},
     "encoding":{"x":{"field":"region","type":"nominal"},"y":{"field":"val","type":"quantitative"}}}
   ]}
 ],"spacing":129,"bounds":"flush",
 "resolve":{"scale":{"fill":"independent"},"legend":{"fill":"independent"}}},
 {"concat":[
  {"width":260,"height":220,
   "title":{"text":"(C)","dx":10,"offset":-4},
   "layer":[
    {"data":{"name":"cdf"},"mark":{"type":"line","strokeWidth":2.2},
     "encoding":{
      "x":{"field":"t","type":"quantitative","scale":{"domain":[0,60],"nice":false},"axis":{"values":[0,10,20,30,40,50,60],"format":"d","title":"Time (min)"}},
      "y":{"field":"v","type":"quantitative","scale":{"domain":[0,25],"nice":false},"axis":{"values":[0,5,10,15,20,25],"format":"d","title":"Activity Concentration (kBq/mL)"}},
      "color":{"field":"m","type":"nominal","scale":{"domain":["MDIF","IDIF"],"range":["#000000","#8f8f8f"]},"legend":null},
      "strokeDash":{"field":"m","type":"nominal","scale":{"domain":["MDIF","IDIF"],"range":[[6,4],[1,0]]},"legend":null},
      "detail":{"field":"r","type":"nominal"}}},
    {"data":{"name":"cdp"},"mark":{"type":"point","filled":true,"size":18,"color":"black","opacity":1},
     "encoding":{"x":{"field":"t","type":"quantitative"},"y":{"field":"v","type":"quantitative"},
      "shape":{"field":"r","type":"nominal","scale":{"domain":["GM","WM"],"range":["circle","square"]},"legend":null}}}
   ]},
  {"width":261,"height":220,
   "title":{"text":"(D)","dx":11,"offset":-3},
   "layer":[
    {"data":{"name":"cdf"},"transform":[{"filter":"datum.t <= 3"}],"mark":{"type":"line","strokeWidth":2.2},
     "encoding":{
      "x":{"field":"t","type":"quantitative","scale":{"domain":[0,3],"nice":false},"axis":{"values":[0,1,2,3],"format":"d","title":"Time (min)"}},
      "y":{"field":"v","type":"quantitative","scale":{"domain":[0,12],"nice":false},"axis":{"values":[0,2,4,6,8,10,12],"format":"d","title":"Activity Concentration (kBq/mL)"}},
      "color":{"field":"m","type":"nominal","scale":{"domain":["MDIF","IDIF"],"range":["#000000","#8f8f8f"]},"legend":null},
      "strokeDash":{"field":"m","type":"nominal","scale":{"domain":["MDIF","IDIF"],"range":[[6,4],[1,0]]},"legend":null},
      "detail":{"field":"r","type":"nominal"}}},
    {"data":{"name":"cdp"},"transform":[{"filter":"datum.t <= 3"}],"mark":{"type":"point","filled":true,"size":18,"color":"black","opacity":1},
     "encoding":{"x":{"field":"t","type":"quantitative"},"y":{"field":"v","type":"quantitative"},
      "shape":{"field":"r","type":"nominal","scale":{"domain":["GM","WM"],"range":["circle","square"]},"legend":null}}}
   ]},
  {"width":260,"height":220,
   "title":{"text":"(E)","dx":10,"offset":-3},
   "layer":[
    {"data":{"name":"eff"},"mark":{"type":"line","strokeWidth":2.2},
     "encoding":{
      "x":{"field":"t","type":"quantitative","scale":{"domain":[0,60],"nice":false},"axis":{"values":[0,10,20,30,40,50,60],"format":"d","title":"Time (min)"}},
      "y":{"field":"v","type":"quantitative","scale":{"domain":[0,30],"nice":false},"axis":{"values":[0,5,10,15,20,25,30],"format":"d","title":"Activity Concentration (kBq/mL)"}},
      "color":{"field":"m","type":"nominal","scale":{"domain":["MDIF","IDIF"],"range":["#000000","#8f8f8f"]},
       "legend":{"orient":"none","legendX":198,"legendY":283,"direction":"horizontal","title":null,"symbolType":"stroke","symbolSize":484,"symbolStrokeWidth":2.5,"labelOffset":14,"columnPadding":8}},
      "strokeDash":{"field":"m","type":"nominal","scale":{"domain":["MDIF","IDIF"],"range":[[6,4],[1,0]]},
       "legend":{"orient":"none","legendX":198,"legendY":283,"direction":"horizontal","title":null,"symbolType":"stroke","symbolSize":484,"symbolStrokeWidth":2.5,"labelOffset":14,"columnPadding":8}},
      "detail":{"field":"r","type":"nominal"}}},
    {"data":{"name":"efp"},"mark":{"type":"point","filled":true,"size":20,"color":"black","opacity":1},
     "encoding":{"x":{"field":"t","type":"quantitative"},"y":{"field":"v","type":"quantitative"},
      "shape":{"field":"r","type":"nominal","scale":{"domain":["GM","WM"],"range":["circle","square"]},"legend":null}}}
   ]},
  {"width":261,"height":220,
   "title":{"text":"(F)","dx":11,"offset":-3},
   "layer":[
    {"data":{"name":"eff"},"transform":[{"filter":"datum.t <= 3"}],"mark":{"type":"line","strokeWidth":2.2},
     "encoding":{
      "x":{"field":"t","type":"quantitative","scale":{"domain":[0,3],"nice":false},"axis":{"values":[0,1,2,3],"format":"d","title":"Time (min)"}},
      "y":{"field":"v","type":"quantitative","scale":{"domain":[0,20],"nice":false},"axis":{"values":[0,5,10,15,20],"format":"d","title":"Activity Concentration (kBq/mL)"}},
      "color":{"field":"m","type":"nominal","scale":{"domain":["MDIF","IDIF"],"range":["#000000","#8f8f8f"]},"legend":null},
      "strokeDash":{"field":"m","type":"nominal","scale":{"domain":["MDIF","IDIF"],"range":[[6,4],[1,0]]},"legend":null},
      "detail":{"field":"r","type":"nominal"}}},
    {"data":{"name":"efp"},"transform":[{"filter":"datum.t <= 3"}],"mark":{"type":"point","filled":true,"size":20,"color":"black","opacity":1},
     "encoding":{"x":{"field":"t","type":"quantitative"},"y":{"field":"v","type":"quantitative"},
      "shape":{"field":"r","type":"nominal","scale":{"domain":["GM","WM"],"range":["circle","square"]},"legend":null}}}
   ]}
 ],"columns":2,"spacing":{"row":87,"column":91},"bounds":"flush","align":"each",
 "resolve":{"scale":{"color":"independent","strokeDash":"independent","shape":"independent"},"legend":{"color":"independent","strokeDash":"independent","shape":"independent"}}}
]
}
